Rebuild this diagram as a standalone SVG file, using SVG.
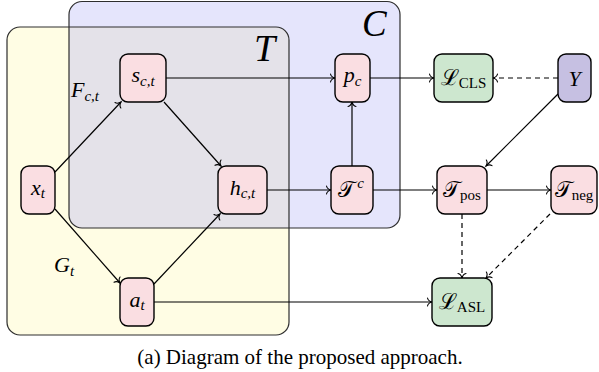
<svg xmlns="http://www.w3.org/2000/svg" width="599" height="372" viewBox="0 0 599 372">
<style>
.cont{stroke:#2e2e2e;stroke-width:1.2;}
.node rect{stroke:#000;stroke-width:1.4;}
.pink{fill:#fadee2;}
.green{fill:#cde7cf;}
.purple{fill:#c6c0e2;}
.m{font-family:"Liberation Serif","DejaVu Serif",serif;font-size:22px;fill:#000;}
.it{font-style:italic;}
.up{font-style:normal;}
.sub{font-size:15px;}
.edge{fill:none;stroke:#000;stroke-width:1.2;marker-end:url(#arr);}
.dash{stroke-dasharray:5 4;}
</style>
<defs>
<marker id="arr" viewBox="-6 -5 10 10" markerWidth="10" markerHeight="10" refX="0" refY="0" orient="auto" markerUnits="userSpaceOnUse" overflow="visible">
<path d="M-4.5,-4 C-4,-1.5 -1.5,-0.4 0,0 C-1.5,0.4 -4,1.5 -4.5,4" fill="none" stroke="#000" stroke-width="1.1" stroke-linecap="round"/>
</marker>
<clipPath id="clipC"><rect x="69" y="1.5" width="331" height="226.5" rx="13"/></clipPath>
</defs>
<g id="container-T-fill"><rect x="7" y="27" width="282" height="308" rx="13" fill="#fffde4"/></g>
<g id="container-C-fill"><rect x="69" y="1.5" width="331" height="226.5" rx="13" fill="#e5e5fc"/></g>
<g id="overlap"><rect x="7" y="27" width="282" height="308" rx="13" fill="#e4e2e9" clip-path="url(#clipC)"/></g>
<g id="container-C"><rect class="cont" x="69" y="1.5" width="331" height="226.5" rx="13" fill="none"/>
<text class="m it" x="362" y="36" style="font-size:37px">C</text></g>
<g id="container-T"><rect class="cont" x="7" y="27" width="282" height="308" rx="13" fill="none"/>
<text class="m it" x="254" y="61" style="font-size:38px">T</text></g>

<g id="labels">
<text class="m" x="71" y="97"><tspan class="it">F</tspan><tspan class="it sub" dy="4">c,t</tspan></text>
<text class="m" x="54" y="272"><tspan class="it">G</tspan><tspan class="it sub" dy="4">t</tspan></text>
</g>

<g id="connectors">
<path class="edge" d="M55,172 L121,102"/>
<path class="edge" d="M164,102 L221,166"/>
<path class="edge" d="M55,209 L120,283"/>
<path class="edge" d="M154,284 L220,214"/>
<path class="edge" d="M166,78 L335,78"/>
<path class="edge" d="M267,190 L331,190"/>
<path class="edge" d="M352,166 L352,102"/>
<path class="edge" d="M370,78 L434,78"/>
<path class="edge dash" d="M558,78 L493,78"/>
<path class="edge" d="M558,94 L486,166"/>
<path class="edge" d="M373,190 L437,190"/>
<path class="edge" d="M487,190 L551,190"/>
<path class="edge dash" d="M462,214 L462,278"/>
<path class="edge dash" d="M550,214 L486,278"/>
<path class="edge" d="M154,302 L432,302"/>
</g>

<g id="xt" class="node"><rect class="pink" x="21" y="166" width="34" height="48" rx="8"/>
<text class="m" x="38" y="194.5" text-anchor="middle"><tspan class="it">x</tspan><tspan class="it sub" dy="3.5">t</tspan></text></g>
<g id="s" class="node"><rect class="pink" x="120" y="54" width="46" height="48" rx="8"/>
<text class="m" x="143" y="82" text-anchor="middle"><tspan class="it">s</tspan><tspan class="it sub" dy="3.5">c,t</tspan></text></g>
<g id="h" class="node"><rect class="pink" x="218" y="166" width="49" height="48" rx="8"/>
<text class="m" x="242.5" y="194.5" text-anchor="middle"><tspan class="it">h</tspan><tspan class="it sub" dy="3.5">c,t</tspan></text></g>
<g id="a" class="node"><rect class="pink" x="120" y="278" width="34" height="48" rx="8"/>
<text class="m" x="137" y="306.5" text-anchor="middle"><tspan class="it">a</tspan><tspan class="it sub" dy="3.5">t</tspan></text></g>
<g id="p" class="node"><rect class="pink" x="335" y="54" width="35" height="48" rx="8"/>
<text class="m" x="352.5" y="82" text-anchor="middle"><tspan class="it">p</tspan><tspan class="it sub" dy="3.5">c</tspan></text></g>
<g id="Tc" class="node"><rect class="pink" x="331" y="166" width="42" height="48" rx="8"/>
<text class="m" x="351" y="197" text-anchor="middle"><tspan>𝒯</tspan><tspan class="it sub" dx="2" dy="-9">c</tspan></text></g>
<g id="Lcls" class="node"><rect class="green" x="434" y="54" width="59" height="48" rx="8"/>
<text class="m" x="463.5" y="85" text-anchor="middle"><tspan>ℒ</tspan><tspan class="up sub" dy="3">CLS</tspan></text></g>
<g id="Y" class="node"><rect class="purple" x="558" y="54" width="33" height="48" rx="8"/>
<text class="m it" x="574.5" y="85.5" text-anchor="middle">Y</text></g>
<g id="Tpos" class="node"><rect class="pink" x="437" y="166" width="50" height="48" rx="8"/>
<text class="m" x="462" y="197" text-anchor="middle"><tspan>𝒯</tspan><tspan class="up sub" dy="3">pos</tspan></text></g>
<g id="Tneg" class="node"><rect class="pink" x="551" y="166" width="46" height="48" rx="8"/>
<text class="m" x="574" y="197" text-anchor="middle"><tspan>𝒯</tspan><tspan class="up sub" dy="3">neg</tspan></text></g>
<g id="Lasl" class="node"><rect class="green" x="432" y="278" width="60" height="48" rx="8"/>
<text class="m" x="462" y="309" text-anchor="middle"><tspan>ℒ</tspan><tspan class="up sub" dy="3">ASL</tspan></text></g>

<g id="caption"><text x="300" y="364" text-anchor="middle" font-family="'Liberation Serif', serif" font-size="21">(a) Diagram of the proposed approach.</text></g>
</svg>
